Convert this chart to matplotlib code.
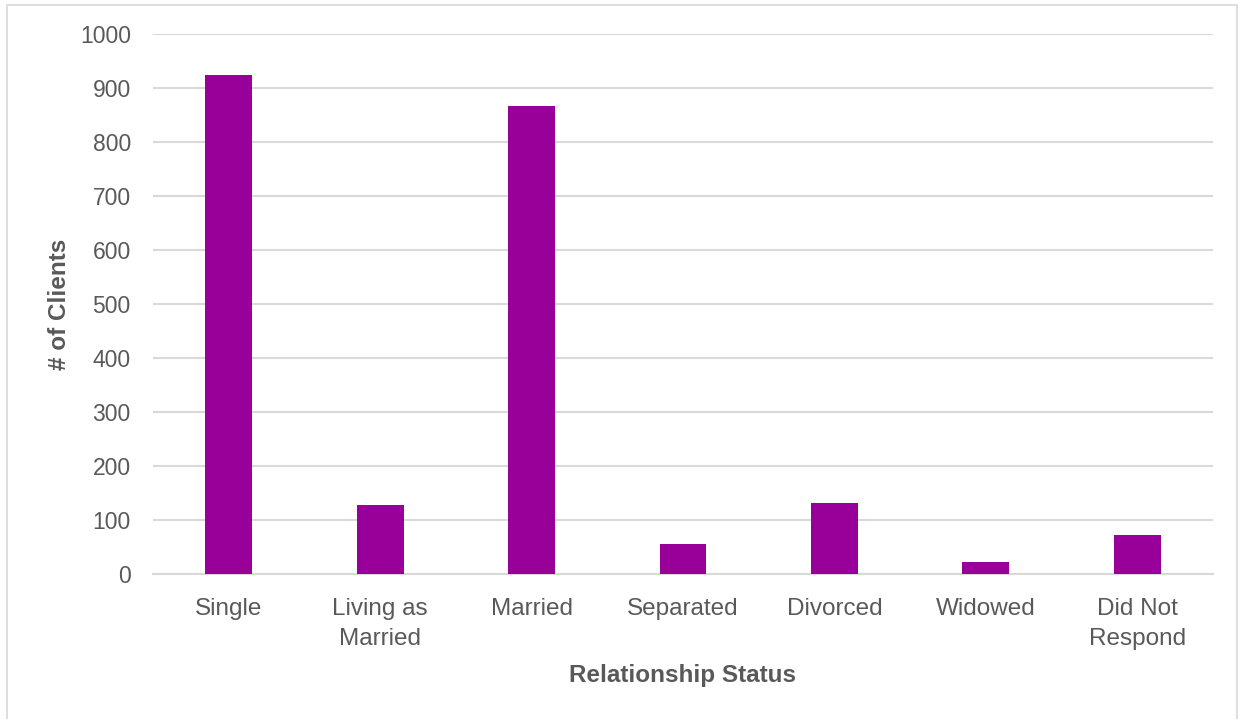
import matplotlib
matplotlib.use("Agg")
import matplotlib.pyplot as plt
from matplotlib.patches import Rectangle

# Data
categories = ["Single", "Living as\nMarried", "Married", "Separated",
              "Divorced", "Widowed", "Did Not\nRespond"]
clients = [925, 128, 866, 56, 131, 22, 72]
y_ticks = list(range(0, 1001, 100))

plt.rcParams['font.family'] = ['Liberation Sans', 'DejaVu Sans']

fig = plt.figure(figsize=(12.39, 7.19), dpi=100)
ax = fig.add_axes([0.1235, 0.2017, 0.8555, 0.751])

ax.bar(range(len(categories)), clients, width=0.31, color='#990099', zorder=3)

ax.set_xlim(-0.5, len(categories) - 0.5)
ax.set_ylim(0, 1000)
ax.set_yticks(y_ticks)
ax.set_xticks(range(len(categories)))
ax.set_xticklabels(categories, linespacing=1.5, fontsize=17.5)

ax.grid(axis='y', color='#d9d9d9', linewidth=1.5, zorder=0)
for side in ['top', 'right', 'left']:
    ax.spines[side].set_visible(False)
ax.spines['bottom'].set_color('#d9d9d9')
ax.spines['bottom'].set_linewidth(1.5)
ax.tick_params(axis='both', length=0, colors='#595959')
ax.tick_params(axis='y', pad=16, labelsize=16.5)
ax.tick_params(axis='x', pad=17)

ax.set_xlabel('Relationship Status', fontsize=17.5, fontweight='bold',
              color='#595959', labelpad=10)
ax.set_ylabel('# of Clients', fontsize=17.5, fontweight='bold',
              color='#595959', labelpad=6)

# light frame around the chart area
fig.patches.append(Rectangle((0.006, -0.01), 0.992, 1.003, transform=fig.transFigure,
                             fill=False, edgecolor='#d9d9d9', linewidth=1.2))

fig.savefig('out.png', dpi=100)
